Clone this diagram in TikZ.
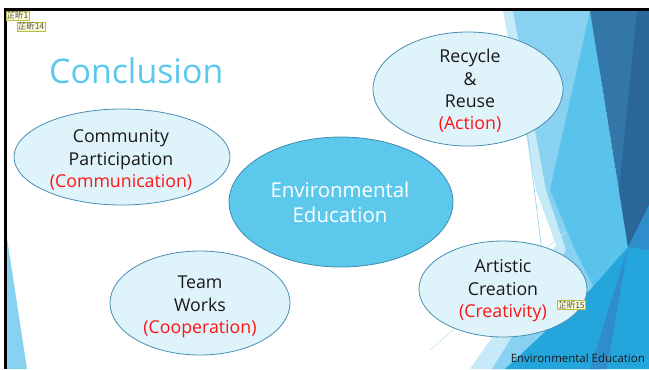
\documentclass[tikz,border=0pt]{standalone}
\usepackage{fontspec}
\setmainfont{Open Sans}
\newfontfamily\notefont{Noto Sans CJK TC}
\usetikzlibrary{
    shapes.geometric,
    backgrounds
}
\definecolor{ink}{RGB}{25,25,25}
\definecolor{titleblue}{RGB}{92,200,236}
\definecolor{hubfill}{RGB}{92,200,236}
\definecolor{hubdraw}{RGB}{62,138,178}
\definecolor{leaffill}{RGB}{223,243,250}
\definecolor{leafdraw}{RGB}{72,142,178}
\definecolor{accentred}{RGB}{255,20,20}
\definecolor{facetpale}{RGB}{198,234,248}
\definecolor{facetlight}{RGB}{136,209,240}
\definecolor{facetmid}{RGB}{90,195,235}
\definecolor{facetdeep}{RGB}{50,119,168}
\definecolor{facetdark}{RGB}{42,102,152}
\definecolor{facetcyan}{RGB}{36,166,221}
\definecolor{facetblue}{RGB}{47,141,204}
\definecolor{notefill}{RGB}{250,250,214}
\definecolor{notedraw}{RGB}{188,188,60}
\tikzset{
    hub/.style={
        ellipse,
        draw=hubdraw,
        line width=0.8pt,
        fill=hubfill,
        inner sep=0pt
    },
    leaf/.style={
        ellipse,
        draw=leafdraw,
        line width=0.8pt,
        fill=leaffill,
        inner sep=0pt
    },
    leaftext/.style={
        align=center,
        text=ink,
        inner sep=0pt,
        font=\fontsize{17.8}{22.5}\selectfont
    },
    hubtext/.style={
        align=center,
        text=white,
        inner sep=0pt,
        font=\fontsize{20.5}{25}\selectfont
    },
    note/.style={
        draw=notedraw,
        fill=notefill,
        line width=0.6pt,
        inner sep=0.8pt,
        text=ink!75,
        font=\notefont\fontsize{8.5}{9}\selectfont
    }
}

\begin{document}
\begin{tikzpicture}[x=1bp, y=-1bp]
\useasboundingbox (0,0) rectangle (649,369);

% facets on the right and lower left
\fill[facetpale] (503,11) -- (600,11) -- (600,369) -- (470,369) -- (556,245) -- (536,190) -- cycle;
\fill[facetlight] (513,11) -- (600,11) -- (600,369) -- (492,369) -- (566,250) -- (546,190) -- cycle;
\fill[facetmid] (590,11) -- (628,247) -- (600,300) -- (575,250) -- (550,190) -- cycle;
\fill[facetcyan] (649,190) -- (649,369) -- (505,369) -- (590,290) -- (628,247) -- cycle;
\fill[facetdeep] (590,11) -- (649,11) -- (649,205) -- (628,247) -- cycle;
\fill[facetdark] (637,11) -- (649,11) -- (649,205) -- (628,247) -- (619,190) -- cycle;
\fill[facetblue] (628,247) -- (649,205) -- (649,250) -- cycle;
\fill[facetblue] (628,247) -- (607,369) -- (590,369) -- cycle;
\fill[facetlight] (7,238) -- (7,369) -- (27,369) -- cycle;
\draw[facetlight, line width=0.6pt] (527,130) -- (546,285);
\draw[facetpale, line width=0.8pt] (430,350) -- (565,232);

% slide edge
\fill[black] (4,8) rectangle (649,11);
\fill[black] (4,8) rectangle (7,369);

\node[text=titleblue, anchor=base west, inner sep=0pt, font=\fontsize{34}{40}\selectfont] (title) at (49,83) {Conclusion};

\node[hub, minimum width=224bp, minimum height=130bp] (env) at (341,202) {};
\node[leaf, minimum width=216bp, minimum height=96bp] (comm) at (122,157) {};
\node[leaf, minimum width=190bp, minimum height=114bp] (recy) at (468,89) {};
\node[leaf, minimum width=180bp, minimum height=104bp] (team) at (200,303) {};
\node[leaf, minimum width=168bp, minimum height=96bp] (arts) at (503,289) {};

\node[hubtext] (envtext) at (340,202) {Environmental\\Education};
\node[leaftext] (commtext) at (121,160) {Community\\Participation\\\textcolor{accentred}{(Communication)}};
\node[leaftext] (recytext) at (470,91) {Recycle\\\&\\Reuse\\\textcolor{accentred}{(Action)}};
\node[leaftext] (teamtext) at (200,307) {Team\\Works\\\textcolor{accentred}{(Cooperation)}};
\node[leaftext] (artstext) at (503,291) {Artistic\\Creation\\\textcolor{accentred}{(Creativity)}};

\node[text=ink, anchor=base east, inner sep=0pt, font=\fontsize{11.5}{13}\selectfont] (footer) at (645,362) {Environmental Education};

% comment markers
\node[note] (mark1) at (17.5,15.5) {芷昕1};
\node[note] (mark14) at (31,26.5) {芷昕14};
\node[note] (mark15) at (571.5,305) {芷昕15};

\end{tikzpicture}
\end{document}
